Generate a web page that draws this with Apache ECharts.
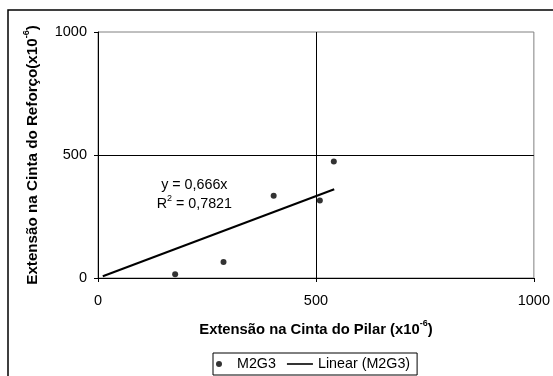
<!DOCTYPE html>
<html>
<head>
<meta charset="utf-8">
<script src="https://cdn.jsdelivr.net/npm/echarts@6/dist/echarts.min.js"></script>
<style>
    html, body { margin: 0; padding: 0; background: #fff; }
    #chart { width: 553px; height: 376px; }
</style>
</head>
<body>
<div id="chart"></div>
<script>
// dados
var pilar = [177, 288, 403, 509, 541];
var reforco = [15, 65, 334, 315, 474];
var slope = 0.666;
var trendX = [11, 542];
var ticks = [0, 500, 1000];

(function() {
    var font = 'Liberation Sans, Arial, sans-serif';
    var pts = pilar.map(function(x, i) { return [x, reforco[i]]; });
    var trend = trendX.map(function(x) { return [x, slope * x]; });

    var myChart = echarts.init(document.getElementById('chart'), null, { renderer: 'canvas' });
    function nameStyle(size) {
        return {
            color: '#000', fontSize: size, fontWeight: 'bold', fontFamily: font, lineHeight: 22,
            rich: { sup: { fontSize: 9, fontWeight: 'bold', fontFamily: font, verticalAlign: 'top', color: '#000' } }
        };
    }
    var axisCommon = {
        type: 'value',
        min: ticks[0],
        max: ticks[ticks.length - 1],
        interval: ticks[1] - ticks[0],
        axisLine: { show: true, lineStyle: { color: '#000', width: 1 } },
        axisTick: { show: true, inside: false, length: 4, lineStyle: { color: '#000' } },
        axisLabel: {
            color: '#000', fontSize: 14.5, fontFamily: font,
            formatter: function(v) { return String(v); }
        },
        splitLine: { show: false },
        nameLocation: 'middle'
    };

    var option = {
        animation: false,
        backgroundColor: '#fff',
        grid: {
            left: 98, top: 32, width: 438, height: 246,
            show: true, borderColor: '#808080', borderWidth: 1, backgroundColor: 'transparent'
        },
        xAxis: echarts.util.merge({
            name: 'Extensão na Cinta do Pilar (x10{sup|-6})',
            nameGap: 41,
            nameTextStyle: nameStyle(14.8),
            axisLabel: { margin: 15 }
        }, axisCommon),
        yAxis: echarts.util.merge({
            name: 'Extensão na Cinta do Reforço(x10{sup|-6})',
            nameGap: 48,
            nameRotate: 90,
            nameTextStyle: nameStyle(15.2),
            axisLabel: { margin: 11 }
        }, axisCommon),
        legend: {
            left: 213, top: 353,
            orient: 'horizontal',
            borderColor: '#000', borderWidth: 1,
            padding: [4, 7, 4, 3],
            itemGap: 11,
            itemWidth: 26, itemHeight: 6,
            symbolKeepAspect: true,
            textStyle: { color: '#000', fontSize: 14.3, fontFamily: font },
            data: [
                { name: 'M2G3', icon: 'circle' },
                { name: 'Linear (M2G3)', icon: 'path://M0,0 H26 V1.6 H0 Z' }
            ]
        },
        graphic: [{
            type: 'rect',
            shape: { x: 8, y: 10, width: 600, height: 400 },
            style: { fill: 'none', stroke: '#000', lineWidth: 1.5 },
            silent: true
        }],
        series: [{
            name: 'M2G3',
            type: 'scatter',
            data: pts,
            symbol: 'circle',
            symbolSize: 6,
            itemStyle: { color: '#000' },
            markLine: {
                silent: true,
                symbol: 'none',
                label: { show: false },
                lineStyle: { color: '#000', width: 1, type: 'solid' },
                data: [{ xAxis: 500 }, { yAxis: 500 }]
            }
        }, {
            name: 'Linear (M2G3)',
            type: 'line',
            data: trend,
            symbol: 'none',
            lineStyle: { color: '#000', width: 2 },
            itemStyle: { color: '#000' },
            markPoint: {
                symbol: 'circle',
                symbolSize: 0,
                data: [{ coord: [221, 341] }],
                label: {
                    show: true,
                    position: 'inside',
                    color: '#000',
                    fontSize: 14.3,
                    fontFamily: font,
                    lineHeight: 19,
                    align: 'center',
                    formatter: 'y = 0,666x\nR{sup|2} = 0,7821',
                    rich: { sup: { fontSize: 9, verticalAlign: 'top', color: '#000', fontFamily: font } }
                }
            }
        }]
    };
    myChart.setOption(option);
})();
</script>
</body>
</html>
